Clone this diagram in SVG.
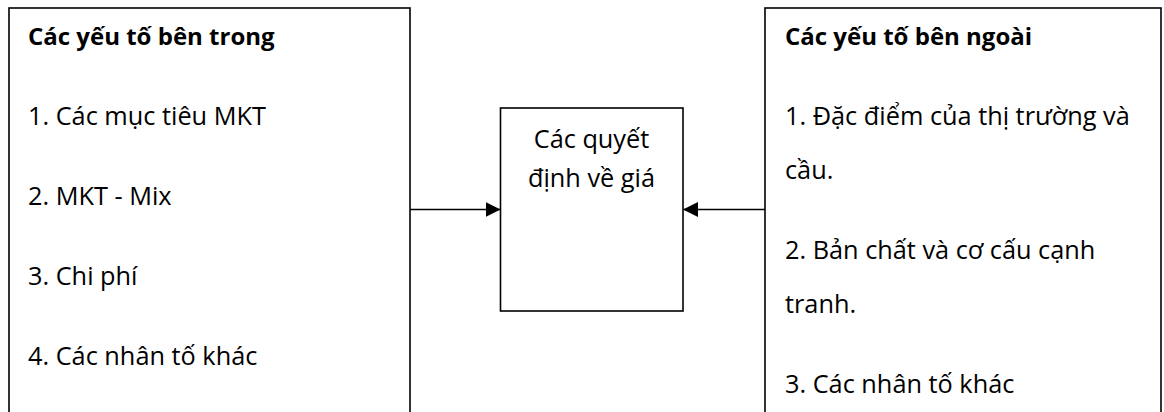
<svg xmlns="http://www.w3.org/2000/svg" width="1164" height="412" viewBox="0 0 1164 412">
  <style>
    .box { fill: #ffffff; stroke: #000000; stroke-width: 1.6; }
    .t { font-family: "Open Sans", "Noto Sans", "Liberation Sans", sans-serif; font-size: 25.3px; fill: #000000; }
    .b { font-weight: bold; font-size: 24px; }
    .c { text-anchor: middle; }
    .conn { stroke: #000000; stroke-width: 1.6; fill: none; marker-end: url(#arrow); }
  </style>
  <defs>
    <marker id="arrow" markerUnits="userSpaceOnUse" markerWidth="15" markerHeight="15" refX="15" refY="7.5" orient="auto">
      <path d="M0,0 L15,7.5 L0,15 Z" fill="#000000"/>
    </marker>
  </defs>
  <rect width="1164" height="412" fill="#ffffff"/>

  <g id="node-internal">
    <rect class="box" x="9" y="8" width="401" height="420"/>
    <text class="t b" x="28" y="45">Các yếu tố bên trong</text>
    <text class="t" x="28" y="125">1. Các mục tiêu MKT</text>
    <text class="t" x="28" y="205">2. MKT - Mix</text>
    <text class="t" x="28" y="285">3. Chi phí</text>
    <text class="t" x="28" y="365">4. Các nhân tố khác</text>
  </g>

  <g id="node-decision">
    <rect class="box" x="500.5" y="108" width="182.5" height="203"/>
    <text class="t c" x="591.5" y="148">Các quyết</text>
    <text class="t c" x="591.5" y="187">định về giá</text>
  </g>

  <g id="node-external">
    <rect class="box" x="765" y="8" width="396" height="420"/>
    <text class="t b" x="785" y="45">Các yếu tố bên ngoài</text>
    <text class="t" x="785" y="125">1. Đặc điểm của thị trường và</text>
    <text class="t" x="785" y="179">cầu.</text>
    <text class="t" x="785" y="259">2. Bản chất và cơ cấu cạnh</text>
    <text class="t" x="785" y="313">tranh.</text>
    <text class="t" x="785" y="393">3. Các nhân tố khác</text>
  </g>

  <g id="connectors">
    <line class="conn" x1="410" y1="209.5" x2="500.5" y2="209.5"/>
    <line class="conn" x1="765" y1="209.5" x2="683" y2="209.5"/>
  </g>
</svg>
